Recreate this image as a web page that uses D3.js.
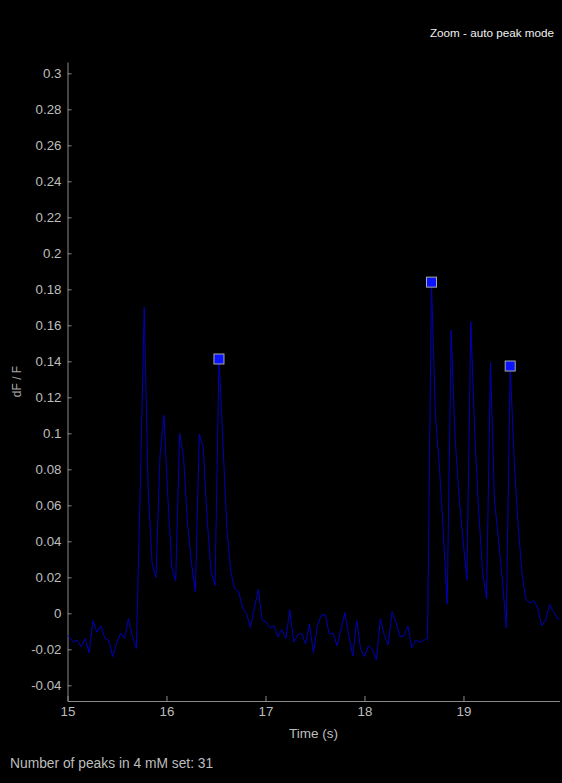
<!DOCTYPE html>
<html>
<head>
<meta charset="utf-8">
<script src="https://cdn.jsdelivr.net/npm/d3@7"></script>
<style>
  body { margin: 0; background: #000; }
  svg { display: block; font-family: "Liberation Sans", Arial, sans-serif; }
  .tick text { fill: #bdbdbd; }
</style>
</head>
<body>
<div id="chart"></div>
<script>
// trace sampling (s)
var startTime = 14.98;
var sampleStep = 0.03975;

// dF/F trace, one value per sample
var dff = [
  -0.012, -0.013, -0.016, -0.015, -0.0185, -0.014, -0.022, -0.004, -0.0105, -0.007,
  -0.014, -0.015, -0.024, -0.0165, -0.011, -0.014, -0.003, -0.013, -0.0195, 0.07,
  0.170, 0.069, 0.028, 0.020, 0.087, 0.110, 0.065, 0.026, 0.018, 0.100,
  0.087, 0.050, 0.028, 0.012, 0.0996, 0.092, 0.052, 0.023, 0.0155, 0.1413,
  0.095, 0.047, 0.023, 0.0135, 0.012, 0.003, 0.000, -0.008, 0.003, 0.0133,
  -0.004, -0.005, -0.008, -0.007, -0.013, -0.009, -0.014, 0.002, -0.016, -0.012,
  -0.011, -0.017, -0.006, -0.022, -0.007, -0.001, -0.0006, -0.0115, -0.011, -0.018,
  -0.009, 0.0004, -0.012, -0.0237, -0.004, -0.020, -0.024, -0.018, -0.020, -0.026,
  -0.003, -0.012, -0.0176, 0.001, -0.005, -0.013, -0.0126, -0.007, -0.019, -0.015,
  -0.016, -0.015, -0.014, 0.184, 0.11, 0.082, 0.045, 0.005, 0.1574, 0.098,
  0.065, 0.041, 0.0185, 0.162, 0.10, 0.057, 0.023, 0.008, 0.1394, 0.063,
  0.042, 0.019, -0.008, 0.1374, 0.086, 0.050, 0.022, 0.008, 0.0056, 0.007,
  0.003, -0.007, -0.004, 0.005, 0.001, -0.003, -0.003
];

// auto-detected peaks
var peakTimes = [16.53, 18.677, 19.472];
var peakValues = [0.1413, 0.184, 0.1374];

// axis ticks
var xTicks = [15, 16, 17, 18, 19];
var yTicks = [-0.04, -0.02, 0, 0.02, 0.04, 0.06, 0.08, 0.1, 0.12, 0.14,
  0.16, 0.18, 0.2, 0.22, 0.24, 0.26, 0.28, 0.3];

var svgWidth = 562;
var svgHeight = 783;

var margin = {
  top: 62,
  bottom: 82,
  left: 67.5,
  right: 2.5
};

var width = svgWidth - margin.left - margin.right;
var height = svgHeight - margin.top - margin.bottom;

var svg = d3.select("#chart")
  .append("svg")
  .attr("width", svgWidth)
  .attr("height", svgHeight);

var chartGroup = svg.append("g")
  .attr("transform", `translate(${margin.left}, ${margin.top})`);

// scales
var xScale = d3.scaleLinear()
  .domain([15, 19.97])
  .range([0, width]);

var yScale = d3.scaleLinear()
  .domain([-0.0487, 0.3063])
  .range([height, 0]);

// axes, ticks pointing inward
var bottomAxis = d3.axisBottom(xScale)
  .tickValues(xTicks)
  .tickSizeInner(-5)
  .tickSizeOuter(0)
  .tickPadding(6)
  .tickFormat(d => d);

var leftAxis = d3.axisLeft(yScale)
  .tickValues(yTicks)
  .tickSizeInner(-4)
  .tickSizeOuter(0)
  .tickPadding(6)
  .tickFormat(d => String(+d.toFixed(2)));

var xAxisG = chartGroup.append("g")
  .attr("transform", `translate(0, ${height})`)
  .call(bottomAxis);

var yAxisG = chartGroup.append("g")
  .call(leftAxis);

[xAxisG, yAxisG].forEach(function(g) {
  g.select(".domain").attr("stroke", "#8a8a8a");
  g.selectAll(".tick line").attr("stroke", "#8a8a8a");
  g.selectAll(".tick text").style("font-size", "13.3px");
});

// clip the trace to the plot area
svg.append("defs").append("clipPath")
  .attr("id", "plotClip")
  .append("rect")
  .attr("width", width)
  .attr("height", height);

var line = d3.line()
  .x((d, i) => xScale(startTime + i * sampleStep))
  .y(d => yScale(d));

chartGroup.append("path")
  .datum(dff)
  .attr("clip-path", "url(#plotClip)")
  .attr("fill", "none")
  .attr("stroke", "#0000b8")
  .attr("stroke-width", 1)
  .attr("stroke-linejoin", "round")
  .attr("d", line);

// peak markers
chartGroup.selectAll(".peak")
  .data(peakTimes)
  .enter()
  .append("rect")
  .attr("class", "peak")
  .attr("x", d => xScale(d) - 5)
  .attr("y", (d, i) => yScale(peakValues[i]) - 5)
  .attr("width", 10)
  .attr("height", 10)
  .attr("fill", "#0a14ff")
  .attr("stroke", "#a8a8a8")
  .attr("stroke-width", 1);

// axis labels
chartGroup.append("text")
  .attr("x", width / 2)
  .attr("y", height + 37)
  .attr("text-anchor", "middle")
  .style("font-size", "13.5px")
  .style("fill", "#bdbdbd")
  .text("Time (s)");

chartGroup.append("text")
  .attr("transform", "rotate(-90)")
  .attr("x", -height / 2)
  .attr("y", -margin.left + 21)
  .attr("text-anchor", "middle")
  .style("font-size", "12px")
  .style("fill", "#a8a8a8")
  .text("dF / F");

// title and footer
svg.append("text")
  .attr("x", 554)
  .attr("y", 37)
  .attr("text-anchor", "end")
  .style("font-size", "11.7px")
  .style("fill", "#f0f0f0")
  .text("Zoom - auto peak mode");

svg.append("text")
  .attr("x", 10)
  .attr("y", 768)
  .style("font-size", "13.8px")
  .style("fill", "#bdbdbd")
  .text("Number of peaks in 4 mM set: 31");
</script>
</body>
</html>
